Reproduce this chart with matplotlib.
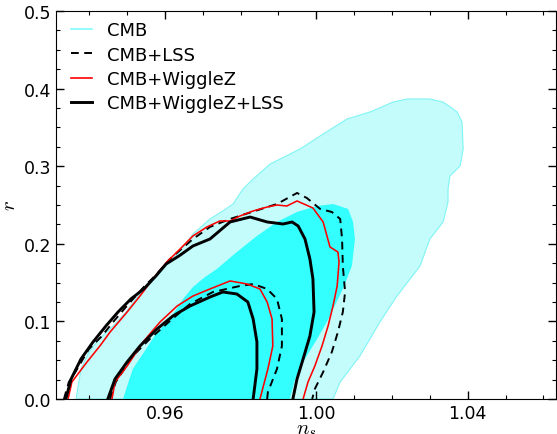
from matplotlib import use, pyplot as plt
from matplotlib.ticker import MultipleLocator

use('Agg')

# CMB contornos (regiao preenchida)
cmb95_ns = [0.9365, 0.9378, 0.9399, 0.9426, 0.9463, 0.9497, 0.9523, 0.9560, 0.9600,
            0.9640, 0.9674, 0.9719, 0.9753, 0.9780, 0.9806, 0.9833, 0.9878, 0.9957,
            1.0018, 1.0081, 1.0142, 1.0203, 1.0240, 1.0300, 1.0335, 1.0372, 1.0385,
            1.0388, 1.0380, 1.0353, 1.0348, 1.0348, 1.0335, 1.0300, 1.0274, 1.0213,
            1.0168, 1.0115, 1.0063, 1.0044]
cmb95_r = [0.0, 0.0387, 0.0606, 0.0773, 0.0941, 0.1121, 0.1289, 0.1482, 0.1701,
           0.1907, 0.2126, 0.2320, 0.2423, 0.2513, 0.2706, 0.2835, 0.3028, 0.3222,
           0.3415, 0.3608, 0.3699, 0.3827, 0.3866, 0.3866, 0.3827, 0.3699, 0.3570,
           0.3222, 0.3003, 0.2874, 0.2706, 0.2539, 0.2281, 0.2062, 0.1714, 0.1327,
           0.0992, 0.0554, 0.0219, 0.0]

cmb68_ns = [0.9489, 0.9515, 0.9550, 0.9576, 0.9613, 0.9648, 0.9674, 0.9706, 0.9737,
            0.9790, 0.9843, 0.9896, 0.9949, 1.0002, 1.0044, 1.0084, 1.0097, 1.0102,
            1.0094, 1.0070, 1.0028, 1.0002, 0.9965, 0.9944, 0.9930]
cmb68_r = [0.0, 0.0387, 0.0644, 0.0838, 0.1031, 0.1289, 0.1443, 0.1572, 0.1675,
           0.1894, 0.2101, 0.2281, 0.2410, 0.2487, 0.2513, 0.2449, 0.2281, 0.2062,
           0.1714, 0.1418, 0.0992, 0.0773, 0.0477, 0.0258, 0.0]

# CMB+LSS
lss95_ns = [0.9333, 0.9346, 0.9365, 0.9399, 0.9431, 0.9463, 0.9497, 0.9544, 0.9576,
            0.9613, 0.9674, 0.9719, 0.9772, 0.9838, 0.9896, 0.9949, 0.9975, 1.0010,
            1.0041, 1.0063, 1.0068, 1.0070, 1.0076, 1.0070, 1.0057, 1.0041, 1.0018,
            0.9996, 0.9989]
lss95_r = [0.0, 0.0219, 0.0361, 0.0644, 0.0799, 0.0992, 0.1186, 0.1443, 0.1598,
           0.1804, 0.2062, 0.2217, 0.2320, 0.2423, 0.2513, 0.2655, 0.2590, 0.2449,
           0.2410, 0.2320, 0.2062, 0.1714, 0.1379, 0.1121, 0.0863, 0.0606, 0.0348,
           0.0129, 0.0]
lss68_ns = [0.9455, 0.9470, 0.9515, 0.9560, 0.9613, 0.9666, 0.9727, 0.9798, 0.9833,
            0.9870, 0.9896, 0.9909, 0.9909, 0.9896, 0.9872, 0.9870]
lss68_r = [0.0, 0.0219, 0.0554, 0.0773, 0.1005, 0.1224, 0.1379, 0.1456, 0.1482,
           0.1418, 0.1289, 0.1031, 0.0683, 0.0387, 0.0090, 0.0]

# CMB+WiggleZ
wz95_ns = [0.9344, 0.9354, 0.9394, 0.9428, 0.9455, 0.9500, 0.9534, 0.9568, 0.9605,
           0.9640, 0.9674, 0.9711, 0.9745, 0.9772, 0.9798, 0.9833, 0.9870, 0.9896,
           0.9922, 0.9949, 0.9991, 1.0018, 1.0036, 1.0057, 1.0060, 1.0055, 1.0044,
           1.0031, 1.0015, 0.9996, 0.9978, 0.9965]
wz95_r = [0.0, 0.0219, 0.0477, 0.0683, 0.0863, 0.1121, 0.1327, 0.1546, 0.1766,
          0.1933, 0.2101, 0.2217, 0.2294, 0.2294, 0.2358, 0.2423, 0.2474, 0.2500,
          0.2487, 0.2552, 0.2461, 0.2281, 0.1959, 0.1894, 0.1766, 0.1456, 0.1198,
          0.0941, 0.0683, 0.0425, 0.0219, 0.0]
wz68_ns = [0.9460, 0.9468, 0.9500, 0.9542, 0.9587, 0.9632, 0.9674, 0.9719, 0.9772,
           0.9817, 0.9851, 0.9870, 0.9883, 0.9885, 0.9872, 0.9851]
wz68_r = [0.0, 0.0219, 0.0425, 0.0735, 0.0992, 0.1198, 0.1327, 0.1418, 0.1521,
          0.1482, 0.1418, 0.1250, 0.1031, 0.0683, 0.0387, 0.0]

# CMB+WiggleZ+LSS
all95_ns = [0.9338, 0.9352, 0.9378, 0.9410, 0.9444, 0.9476, 0.9510, 0.9544, 0.9576,
            0.9603, 0.9637, 0.9674, 0.9719, 0.9772, 0.9825, 0.9870, 0.9912, 0.9936,
            0.9952, 0.9970, 0.9983, 0.9991, 0.9994, 0.9983, 0.9965, 0.9949, 0.9938]
all95_r = [0.0, 0.0258, 0.0515, 0.0735, 0.0941, 0.1121, 0.1289, 0.1418, 0.1585,
           0.1740, 0.1843, 0.1972, 0.2062, 0.2281, 0.2345, 0.2281, 0.2255, 0.2281,
           0.2229, 0.2062, 0.1804, 0.1546, 0.1121, 0.0812, 0.0515, 0.0258, 0.0]
all68_ns = [0.9449, 0.9468, 0.9500, 0.9534, 0.9579, 0.9621, 0.9666, 0.9719, 0.9753,
            0.9790, 0.9819, 0.9833, 0.9843, 0.9843, 0.9833]
all68_r = [0.0, 0.0258, 0.0477, 0.0683, 0.0902, 0.1070, 0.1198, 0.1314, 0.1379,
           0.1353, 0.1250, 0.1031, 0.0735, 0.0387, 0.0]

rotulos = ['CMB', 'CMB+LSS', 'CMB+WiggleZ', 'CMB+WiggleZ+LSS']

plt.rcParams['mathtext.fontset'] = 'cm'

fig = plt.figure(figsize=(5.57, 4.35), dpi=100)
ax = fig.add_axes([0.1005, 0.0805, 0.8975, 0.8919])

tracejado = (0, (4, 2.8))

ax.fill(cmb95_ns, cmb95_r, facecolor='#c4fcfc', edgecolor='#80f4f4', lw=0.8, zorder=1)
ax.fill(cmb68_ns, cmb68_r, facecolor='#33ffff', edgecolor='none', zorder=2)

ax.plot(lss95_ns, lss95_r, color='k', ls=tracejado, lw=1.4, zorder=3)
ax.plot(lss68_ns, lss68_r, color='k', ls=tracejado, lw=1.4, zorder=3)
ax.plot(wz95_ns, wz95_r, color='red', lw=1.15, zorder=4)
ax.plot(wz68_ns, wz68_r, color='red', lw=1.15, zorder=4)
ax.plot(all95_ns, all95_r, color='k', lw=2.1, zorder=5)
ax.plot(all68_ns, all68_r, color='k', lw=2.1, zorder=5)

# legenda
h1, = ax.plot([], [], color='#7ffcfc', lw=1.2)
h2, = ax.plot([], [], color='k', ls=tracejado, lw=1.4)
h3, = ax.plot([], [], color='red', lw=1.2)
h4, = ax.plot([], [], color='k', lw=2.1)
ax.legend([h1, h2, h3, h4], rotulos, loc='upper left', frameon=False,
          bbox_to_anchor=(0.0156, 0.992), borderaxespad=0.0,
          handlelength=1.16, handletextpad=0.83, labelspacing=0.35,
          fontsize=13)

ax.set_xlim(0.9312, 1.0633)
ax.set_ylim(0.0, 0.5)
ax.set_xticks([0.96, 1.00, 1.04])
ax.set_xticklabels(['0.96', '1.00', '1.04'])
ax.set_yticks([0.0, 0.1, 0.2, 0.3, 0.4, 0.5])
ax.xaxis.set_minor_locator(MultipleLocator(0.01))
ax.yaxis.set_minor_locator(MultipleLocator(0.025))
ax.tick_params(which='both', direction='in', top=True, right=True, labelsize=12.5)
ax.tick_params(which='major', length=6, width=1)
ax.tick_params(which='minor', length=3, width=0.8)

ax.set_xlabel(r'$n_s$', fontsize=15, labelpad=-2)
ax.set_ylabel(r'$r$', fontsize=15, labelpad=3)

plt.savefig('out.png', dpi=100)
